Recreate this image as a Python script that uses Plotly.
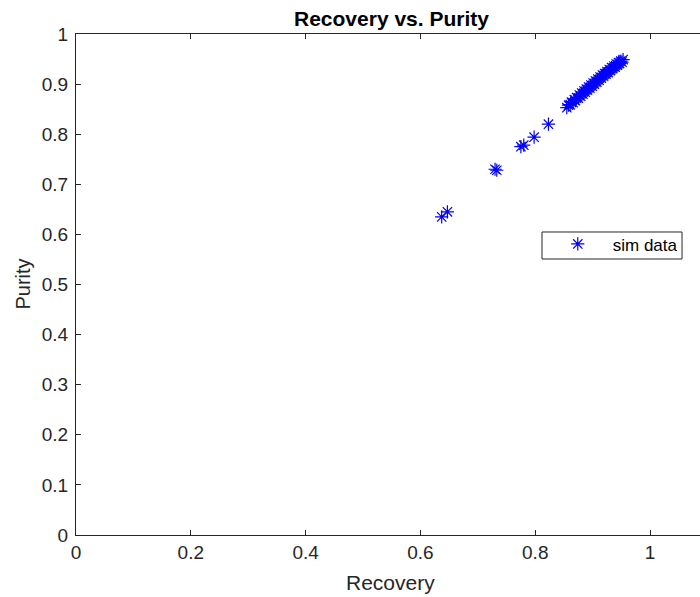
import plotly.graph_objects as go

recovery = [0.637, 0.647, 0.730, 0.733, 0.775, 0.780, 0.798, 0.823,
            0.855, 0.858, 0.861, 0.863, 0.866, 0.868, 0.870, 0.872, 0.875, 0.877,
            0.879, 0.881, 0.883, 0.885, 0.887, 0.889, 0.891, 0.893, 0.895, 0.897,
            0.899, 0.901, 0.903, 0.905, 0.907, 0.909, 0.911, 0.913, 0.915, 0.917,
            0.919, 0.921, 0.923, 0.925, 0.927, 0.929, 0.931, 0.933, 0.935, 0.937,
            0.939, 0.941, 0.943, 0.945, 0.947, 0.949, 0.951, 0.953]
purity = [0.635, 0.645, 0.730, 0.728, 0.775, 0.778, 0.794, 0.820,
          0.853, 0.858, 0.859, 0.864, 0.863, 0.869, 0.867, 0.873, 0.872, 0.878,
          0.876, 0.882, 0.880, 0.886, 0.884, 0.890, 0.888, 0.894, 0.892, 0.898,
          0.896, 0.902, 0.900, 0.906, 0.904, 0.910, 0.908, 0.914, 0.912, 0.918,
          0.916, 0.921, 0.920, 0.925, 0.923, 0.929, 0.927, 0.933, 0.931, 0.936,
          0.934, 0.940, 0.938, 0.943, 0.941, 0.946, 0.944, 0.949]

x_ticks = [0, 0.2, 0.4, 0.6, 0.8, 1]
x_tick_labels = ["0", "0.2", "0.4", "0.6", "0.8", "1"]
y_ticks = [0, 0.1, 0.2, 0.3, 0.4, 0.5, 0.6, 0.7, 0.8, 0.9, 1]
y_tick_labels = ["0", "0.1", "0.2", "0.3", "0.4", "0.5", "0.6", "0.7", "0.8", "0.9", "1"]

axis_color = "#262626"
font_family = "Liberation Sans, Arial, sans-serif"

fig = go.Figure()
fig.add_trace(go.Scatter(
    x=recovery, y=purity, mode="markers", name="sim data",
    marker=dict(symbol="asterisk-open", size=11, color="#0000ff",
                line=dict(color="#0000ff", width=1.2)),
))

fig.update_layout(
    width=700, height=597,
    margin=dict(l=76, r=0, t=34, b=62),
    paper_bgcolor="white", plot_bgcolor="white",
    font=dict(family=font_family, color=axis_color, size=19),
    showlegend=True,
    legend=dict(x=0.748, y=0.616, xanchor="left", yanchor="top",
                bgcolor="rgba(0,0,0,0)", borderwidth=0,
                font=dict(size=17, color="#000000"), itemsizing="trace",
                itemwidth=60, tracegroupgap=0),
    xaxis=dict(range=[0, 1.087], tickvals=x_ticks, ticktext=x_tick_labels,
               showgrid=False, zeroline=False, showline=True, linecolor=axis_color,
               linewidth=1, mirror="ticks", ticks="inside", ticklen=5,
               tickcolor=axis_color, tickfont=dict(size=19, color=axis_color)),
    yaxis=dict(range=[0, 1], tickvals=y_ticks, ticktext=y_tick_labels,
               showgrid=False, zeroline=False, showline=True, linecolor=axis_color,
               linewidth=1, mirror=False, ticks="inside", ticklen=5,
               tickcolor=axis_color, tickfont=dict(size=19, color=axis_color),
               ticklabelstandoff=3),
    shapes=[
        dict(type="rect", xref="paper", yref="paper",
             x0=0.7468, x1=0.9712, y0=0.5509, y1=0.6048,
             line=dict(color=axis_color, width=1), fillcolor="white", layer="below"),
    ],
    annotations=[
        dict(text="<b>Recovery vs. Purity</b>", xref="paper", yref="paper",
             x=0.505, y=1, yshift=16, showarrow=False, xanchor="center", yanchor="middle",
             font=dict(size=21, color="#000000")),
        dict(text="Recovery", xref="paper", yref="paper",
             x=0.504, y=0, yshift=-47, showarrow=False, xanchor="center", yanchor="middle",
             font=dict(size=21, color=axis_color)),
        dict(text="Purity", xref="paper", yref="paper",
             x=0, xshift=-54, y=0.5, showarrow=False, xanchor="center", yanchor="middle",
             textangle=-90, font=dict(size=20, color=axis_color)),
    ],
)

fig.write_html("out.html")
